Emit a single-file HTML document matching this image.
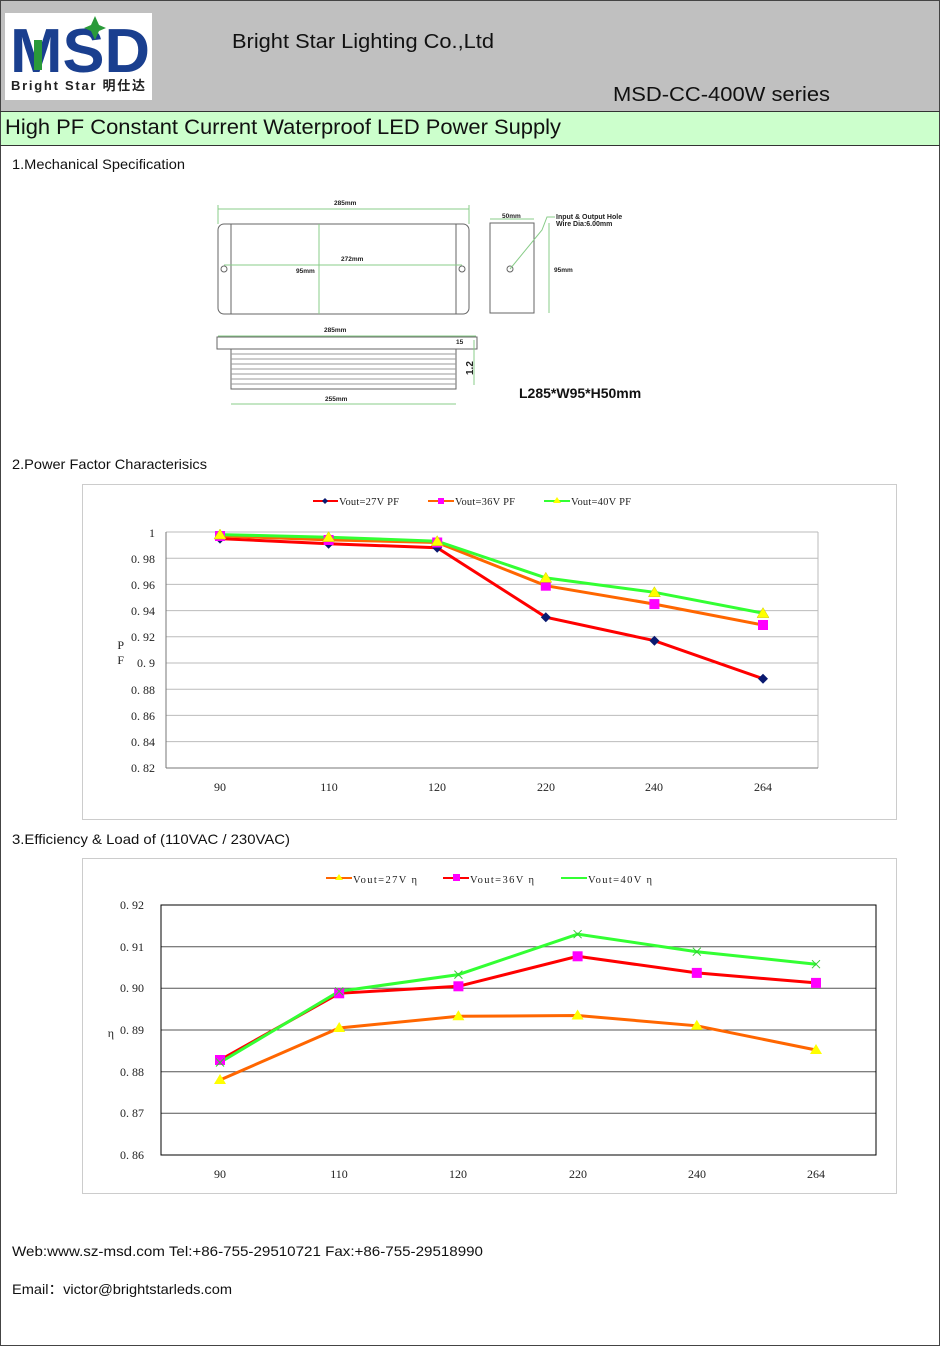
<!DOCTYPE html>
<html><head><meta charset="utf-8"><style>
body{margin:0;width:940px;height:1346px;background:#fff;overflow:hidden}
svg text{font-family:"Liberation Serif","Noto Serif CJK SC",serif}
svg text.s{font-family:"Liberation Sans","Noto Sans CJK SC",sans-serif}
</style></head><body>
<svg width="940" height="1346" viewBox="0 0 940 1346" xmlns="http://www.w3.org/2000/svg">
<rect x="0.5" y="0.5" width="939" height="1345" fill="#fff" stroke="#444"/>
<rect x="1" y="1" width="938" height="110" fill="#c0c0c0"/>
<line x1="0" y1="111.5" x2="940" y2="111.5" stroke="#333"/>
<rect x="1" y="112" width="938" height="33" fill="#ccffcc"/>
<line x1="0" y1="145.5" x2="940" y2="145.5" stroke="#333"/>
<rect x="5" y="13" width="147" height="87" fill="#fff"/>
<text class="s" x="10" y="72" font-weight="bold" font-size="62" fill="#1a3f8f" textLength="140" lengthAdjust="spacingAndGlyphs">MSD</text>
<rect x="34" y="40" width="8" height="30" fill="#2a9a3a"/>
<path d="M95 16 L99 25 L106 28 L99 31 L95 40 L91 31 L84 28 L91 25Z" fill="#2a9a3a"/>
<text class="s" x="11" y="90" font-size="13" font-weight="bold" fill="#222" textLength="134">Bright Star 明仕达</text>
<text class="s" x="232" y="48" font-size="20" fill="#111" textLength="262" lengthAdjust="spacingAndGlyphs">Bright Star Lighting Co.,Ltd</text>
<text class="s" x="613" y="101" font-size="20" fill="#111" textLength="217" lengthAdjust="spacingAndGlyphs">MSD-CC-400W series</text>
<text class="s" x="5" y="134" font-size="21" fill="#111" textLength="556" lengthAdjust="spacingAndGlyphs">High PF Constant Current Waterproof LED Power Supply</text>
<g font-size="14" fill="#111">
<text class="s" x="12" y="169" textLength="173" lengthAdjust="spacingAndGlyphs">1.Mechanical Specification</text>
<text class="s" x="12" y="469" textLength="195" lengthAdjust="spacingAndGlyphs">2.Power Factor Characterisics</text>
<text class="s" x="12" y="844" textLength="278" lengthAdjust="spacingAndGlyphs">3.Efficiency &amp; Load of (110VAC / 230VAC)</text>
<text class="s" x="12" y="1256" textLength="471" lengthAdjust="spacingAndGlyphs">Web:www.sz-msd.com  Tel:+86-755-29510721   Fax:+86-755-29518990</text>
<text class="s" x="12" y="1294" textLength="220" lengthAdjust="spacingAndGlyphs">Email：victor@brightstarleds.com</text>
</g>
<!-- drawing -->
<g stroke="#666" fill="none" stroke-width="1">
<rect x="218" y="224" width="251" height="90" rx="6"/>
<line x1="231" y1="224" x2="231" y2="314"/><line x1="456" y1="224" x2="456" y2="314"/>
<circle cx="224" cy="269" r="3"/><circle cx="462" cy="269" r="3"/>
<rect x="490" y="223" width="44" height="90"/>
<circle cx="510" cy="269" r="3"/>
<rect x="217" y="337" width="260" height="12"/>
<rect x="231" y="349" width="225" height="40"/>
<path d="M231 354H456M231 359H456M231 364H456M231 369H456M231 374H456M231 379H456M231 384H456" stroke="#999"/>
</g>
<g stroke="#8c8" stroke-width="1" fill="none">
<line x1="218" y1="209" x2="469" y2="209"/><line x1="218" y1="205" x2="218" y2="224"/><line x1="469" y1="205" x2="469" y2="224"/>
<line x1="224" y1="265" x2="462" y2="265"/><line x1="319" y1="224" x2="319" y2="314"/>
<line x1="490" y1="219" x2="534" y2="219"/><line x1="549" y1="223" x2="549" y2="313"/>
<line x1="218" y1="336" x2="476" y2="336"/><line x1="231" y1="404" x2="456" y2="404"/>
<line x1="474" y1="340" x2="474" y2="385"/><path d="M510 269 L542 230 L547 217 L555 217"/>
</g>
<g font-size="6.5" font-weight="bold" fill="#222">
<text class="s" x="334" y="205">285mm</text><text class="s" x="341" y="261">272mm</text><text class="s" x="296" y="273">95mm</text>
<text class="s" x="502" y="218">50mm</text><text class="s" x="554" y="272">95mm</text>
<text class="s" x="556" y="219" font-size="7">Input &amp; Output Hole</text><text class="s" x="556" y="226" font-size="7">Wire Dia:6.00mm</text>
<text class="s" x="324" y="332">285mm</text><text class="s" x="325" y="401">255mm</text><text class="s" x="456" y="344">15</text>
<text class="s" x="473" y="375" font-size="10" transform="rotate(-90 473 375)">1.2</text>
</g>
<text class="s" x="519" y="398" font-size="14" font-weight="bold" fill="#111">L285*W95*H50mm</text>

<!-- chart 1 -->
<rect x="82.5" y="484.5" width="814" height="335" fill="#fff" stroke="#ccc"/>
<g stroke="#bbb"><line x1="166" x2="818" y1="532" y2="532"/><line x1="166" x2="818" y1="558.2" y2="558.2"/><line x1="166" x2="818" y1="584.4" y2="584.4"/><line x1="166" x2="818" y1="610.6" y2="610.6"/><line x1="166" x2="818" y1="636.8" y2="636.8"/><line x1="166" x2="818" y1="663" y2="663"/><line x1="166" x2="818" y1="689.2" y2="689.2"/><line x1="166" x2="818" y1="715.4" y2="715.4"/><line x1="166" x2="818" y1="741.6" y2="741.6"/><line x1="818" x2="818" y1="532" y2="768"/></g>
<line x1="166" y1="532" x2="166" y2="768" stroke="#777"/><line x1="166" y1="768" x2="818" y2="768" stroke="#777"/>
<g font-size="12" fill="#222" text-anchor="end">
<text x="155" y="537">1</text><text x="155" y="563">0. 98</text><text x="155" y="589">0. 96</text><text x="155" y="615">0. 94</text><text x="155" y="641">0. 92</text><text x="155" y="667">0. 9</text><text x="155" y="694">0. 88</text><text x="155" y="720">0. 86</text><text x="155" y="746">0. 84</text><text x="155" y="772">0. 82</text>
<text x="124" y="649">P</text><text x="124" y="664">F</text>
</g>
<g font-size="12" fill="#222" text-anchor="middle"><text x="220" y="791">90</text><text x="329" y="791">110</text><text x="437" y="791">120</text><text x="546" y="791">220</text><text x="654" y="791">240</text><text x="763" y="791">264</text></g>
<polyline points="220,538.6 328.6,543.8 437.2,547.7 545.8,617.2 654.4,640.7 763,678.7" fill="none" stroke="#f00" stroke-width="3"/>
<polyline points="220,535.9 328.6,539.9 437.2,542.5 545.8,585.7 654.4,604.1 763,625" fill="none" stroke="#f60" stroke-width="3"/>
<polyline points="220,534.6 328.6,537.2 437.2,541.2 545.8,577.9 654.4,592.3 763,613.2" fill="none" stroke="#3f3" stroke-width="3"/>
<g fill="#0a1a70"><path d="M220 533.6l5 5-5 5-5-5z"/><path d="M328.6 538.8l5 5-5 5-5-5z"/><path d="M437.2 542.7l5 5-5 5-5-5z"/><path d="M545.8 612.2l5 5-5 5-5-5z"/><path d="M654.4 635.7l5 5-5 5-5-5z"/><path d="M763 673.7l5 5-5 5-5-5z"/></g>
<g fill="#f0f"><rect x="215" y="531" width="10" height="10"/><rect x="323.6" y="535" width="10" height="10"/><rect x="432.2" y="537.5" width="10" height="10"/><rect x="540.8" y="580.7" width="10" height="10"/><rect x="649.4" y="599.1" width="10" height="10"/><rect x="758" y="620" width="10" height="10"/></g>
<g fill="#ff0" stroke="#cc0" stroke-width=".5"><path d="M220 529l6 10h-12z"/><path d="M328.6 531.6l6 10h-12z"/><path d="M437.2 535.6l6 10h-12z"/><path d="M545.8 572.3l6 10h-12z"/><path d="M654.4 586.7l6 10h-12z"/><path d="M763 607.6l6 10h-12z"/></g>
<g font-size="10.5" fill="#222">
<line x1="313" y1="501" x2="338" y2="501" stroke="#f00" stroke-width="2"/><path d="M325 498l3 3-3 3-3-3z" fill="#0a1a70"/><text x="339" y="505" textLength="60">Vout=27V PF</text>
<line x1="428" y1="501" x2="454" y2="501" stroke="#f60" stroke-width="2"/><rect x="438" y="498" width="6" height="6" fill="#f0f"/><text x="455" y="505" textLength="60">Vout=36V PF</text>
<line x1="544" y1="501" x2="570" y2="501" stroke="#3f3" stroke-width="2"/><path d="M557 497l4 6h-8z" fill="#ff0"/><text x="571" y="505" textLength="60">Vout=40V PF</text>
</g>

<!-- chart 2 -->
<rect x="82.5" y="858.5" width="814" height="335" fill="#fff" stroke="#ccc"/>
<g stroke="#555"><line x1="161" x2="876" y1="946.7" y2="946.7"/><line x1="161" x2="876" y1="988.3" y2="988.3"/><line x1="161" x2="876" y1="1030" y2="1030"/><line x1="161" x2="876" y1="1071.7" y2="1071.7"/><line x1="161" x2="876" y1="1113.3" y2="1113.3"/></g>
<rect x="161" y="905" width="715" height="250" fill="none" stroke="#000"/>
<g font-size="12" fill="#222" text-anchor="end">
<text x="144" y="909">0. 92</text><text x="144" y="951">0. 91</text><text x="144" y="992">0. 90</text><text x="144" y="1034">0. 89</text><text x="144" y="1076">0. 88</text><text x="144" y="1117">0. 87</text><text x="144" y="1159">0. 86</text><text x="114" y="1037">η</text>
</g>
<g font-size="12" fill="#222" text-anchor="middle"><text x="220" y="1178">90</text><text x="339" y="1178">110</text><text x="458" y="1178">120</text><text x="578" y="1178">220</text><text x="697" y="1178">240</text><text x="816" y="1178">264</text></g>
<polyline points="220,1080 339.2,1028 458.4,1016.3 577.6,1015.5 696.8,1025.8 816,1050" fill="none" stroke="#f60" stroke-width="3"/>
<polyline points="220,1060 339.2,993.3 458.4,986.3 577.6,956.3 696.8,972.9 816,982.9" fill="none" stroke="#f00" stroke-width="3"/>
<polyline points="220,1062.5 339.2,991.3 458.4,974.6 577.6,934.2 696.8,951.7 816,964.2" fill="none" stroke="#3f3" stroke-width="3"/>
<g fill="#ff0"><path d="M220 1074l6 10h-12z"/><path d="M339.2 1022l6 10h-12z"/><path d="M458.4 1010.3l6 10h-12z"/><path d="M577.6 1009.5l6 10h-12z"/><path d="M696.8 1019.8l6 10h-12z"/><path d="M816 1044l6 10h-12z"/></g>
<g fill="#f0f"><rect x="215" y="1055" width="10" height="10"/><rect x="334.2" y="988.3" width="10" height="10"/><rect x="453.4" y="981.3" width="10" height="10"/><rect x="572.6" y="951.3" width="10" height="10"/><rect x="691.8" y="967.9" width="10" height="10"/><rect x="811" y="977.9" width="10" height="10"/></g>
<g stroke="#3c3" stroke-width="1"><path d="M216 1058.5l8 8m0-8l-8 8"/><path d="M335.2 987.3l8 8m0-8l-8 8"/><path d="M454.4 970.6l8 8m0-8l-8 8"/><path d="M573.6 930.2l8 8m0-8l-8 8"/><path d="M692.8 947.7l8 8m0-8l-8 8"/><path d="M812 960.2l8 8m0-8l-8 8"/></g>
<g font-size="10.5" fill="#222">
<line x1="326" y1="878" x2="352" y2="878" stroke="#f60" stroke-width="2"/><path d="M339 874l4 6h-8z" fill="#ff0"/><text x="353" y="883" textLength="64">Vout=27V  η</text>
<line x1="443" y1="878" x2="469" y2="878" stroke="#f00" stroke-width="2"/><rect x="453" y="874" width="7" height="7" fill="#f0f"/><text x="470" y="883" textLength="64">Vout=36V  η</text>
<line x1="561" y1="878" x2="587" y2="878" stroke="#3f3" stroke-width="2"/><text x="588" y="883" textLength="64">Vout=40V  η</text>
</g>
</svg>
</body></html>
